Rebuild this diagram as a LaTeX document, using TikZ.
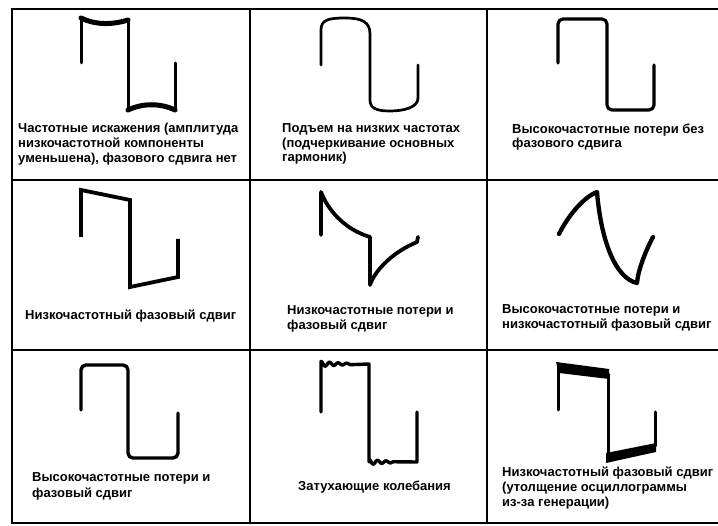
\documentclass[tikz,border=0pt]{standalone}
\usepackage{fontspec}
\setmainfont{Liberation Sans}
\begin{document}
\begin{tikzpicture}[x=1pt,y=-1pt,
  grid/.style={line width=2.2pt},
  wave/.style={line width=3.4pt,line cap=round,line join=round},
  lbl/.style={anchor=base west,inner sep=0pt,font=\fontsize{13}{15}\selectfont\bfseries}]
\useasboundingbox (0,0) rectangle (718,526);
\fill[white] (0,0) rectangle (718,526);

% table frame
\draw[grid] (12,9) -- (720,9);
\draw[grid] (12,180) -- (720,180);
\draw[grid] (12,350) -- (720,350);
\draw[grid] (12,523) -- (720,523);
\draw[grid] (12,8) -- (12,524);
\draw[grid] (250,8) -- (250,524);
\draw[grid] (487,8) -- (487,524);

% row 1, cell 1: sagging top and bottom
\draw[wave,line width=3pt] (81,63) -- (81,18);
\draw[wave,line width=5pt] (81,18) .. controls (95,25) and (112,25) .. (128,20);
\draw[wave,line width=3pt] (128,20) -- (128,109);
\draw[wave,line width=5pt] (128,110) .. controls (143,103) and (160,103) .. (175,110);
\draw[wave,line width=3pt] (175,109) -- (175,63);
\node[lbl] (t1a) at (18,133) {Частотные искажения (амплитуда};
\node[lbl] (t1b) at (18,148) {низкочастотной компоненты};
\node[lbl] (t1c) at (18,163) {уменьшена), фазового сдвига нет};

% row 1, cell 2: overshoot at low frequencies
\draw[wave,line width=2.7pt] (321,65) -- (321,30)
  .. controls (321,20) and (328,18) .. (345,18)
  .. controls (362,18) and (370,22) .. (370,34) -- (370,100)
  .. controls (370,108) and (376,111) .. (390,111)
  .. controls (405,111) and (418,107) .. (418,98) -- (418,65);
\node[lbl] (t2a) at (282,133) {Подъем на низких частотах};
\node[lbl] (t2b) at (282,147.5) {(подчеркивание основных};
\node[lbl] (t2c) at (282,162) {гармоник)};

% row 1, cell 3: rounded corners
\draw[wave,line width=3.2pt,rounded corners=5pt] (558,63) -- (558,19) -- (607,19) -- (607,110) -- (654,110) -- (654,65);
\node[lbl] (t3a) at (512,133.5) {Высокочастотные потери без};
\node[lbl] (t3b) at (512,148) {фазового сдвига};

% row 2, cell 1: tilted top and bottom
\draw[wave,line width=3.8pt,line join=miter,line cap=butt] (81,237) -- (81,190) -- (130,200) -- (130,287) -- (178,277) -- (178,239);
\node[lbl] (t4a) at (25,319.5) {Низкочастотный фазовый сдвиг};

% row 2, cell 2: exponential decay
\draw[wave,line width=3.8pt] (321,235) -- (321,192)
  .. controls (327,208) and (343,229) .. (370,237) -- (370,285)
  .. controls (375,270) and (393,252) .. (417,242) -- (418,237);
\node[lbl] (t5a) at (287,315) {Низкочастотные потери и};
\node[lbl] (t5b) at (287,329.5) {фазовый сдвиг};

% row 2, cell 3: rounded, shifted wave
\draw[wave,line width=4.3pt] (559,234)
  .. controls (567,218) and (582,198) .. (597,192)
  .. controls (601,240) and (615,278) .. (637,283)
  .. controls (638,270) and (646,250) .. (653,237);
\node[lbl] (t6a) at (502,314) {Высокочастотные потери и};
\node[lbl] (t6b) at (502,329) {низкочастотный фазовый сдвиг};

% row 3, cell 1: rounded corners with phase shift
\draw[wave,line width=3.4pt,rounded corners=5pt] (81,410) -- (81,365) -- (128,365) -- (128,458) -- (178,458) -- (178,413);
\node[lbl] (t7a) at (32,482) {Высокочастотные потери и};
\node[lbl] (t7b) at (32,497) {фазовый сдвиг};

% row 3, cell 2: damped ringing after each edge
\draw[wave,line width=3.4pt] (321,412) -- (321,363)
  -- plot[domain=0:30,samples=61] ({321+\x},{364-2.6*exp(-\x/22)*cos(\x*42)})
  -- (369,364) -- (369,462)
  -- plot[domain=0:24,samples=49] ({369+\x},{462-2.6*exp(-\x/20)*cos(\x*42)})
  -- (417,462) -- (417,412);
\node[lbl] (t8a) at (298,491) {Затухающие колебания};

% row 3, cell 3: thickened trace from generation
\draw[wave,line width=3pt] (558,410) -- (558,364);
\fill (556,362) -- (609,369) -- (609,379) -- (559,373) -- cycle;
\draw[wave,line width=3pt] (608,374) -- (608,458);
\fill (606,453) -- (656,443) -- (656,452) -- (606,463) -- cycle;
\draw[wave,line width=3pt] (655,446) -- (655,412);
\node[lbl] (t9a) at (502,477) {Низкочастотный фазовый сдвиг};
\node[lbl] (t9b) at (502,492) {(утолщение осциллограммы};
\node[lbl] (t9c) at (502,507) {из-за генерации)};
\end{tikzpicture}
\end{document}
